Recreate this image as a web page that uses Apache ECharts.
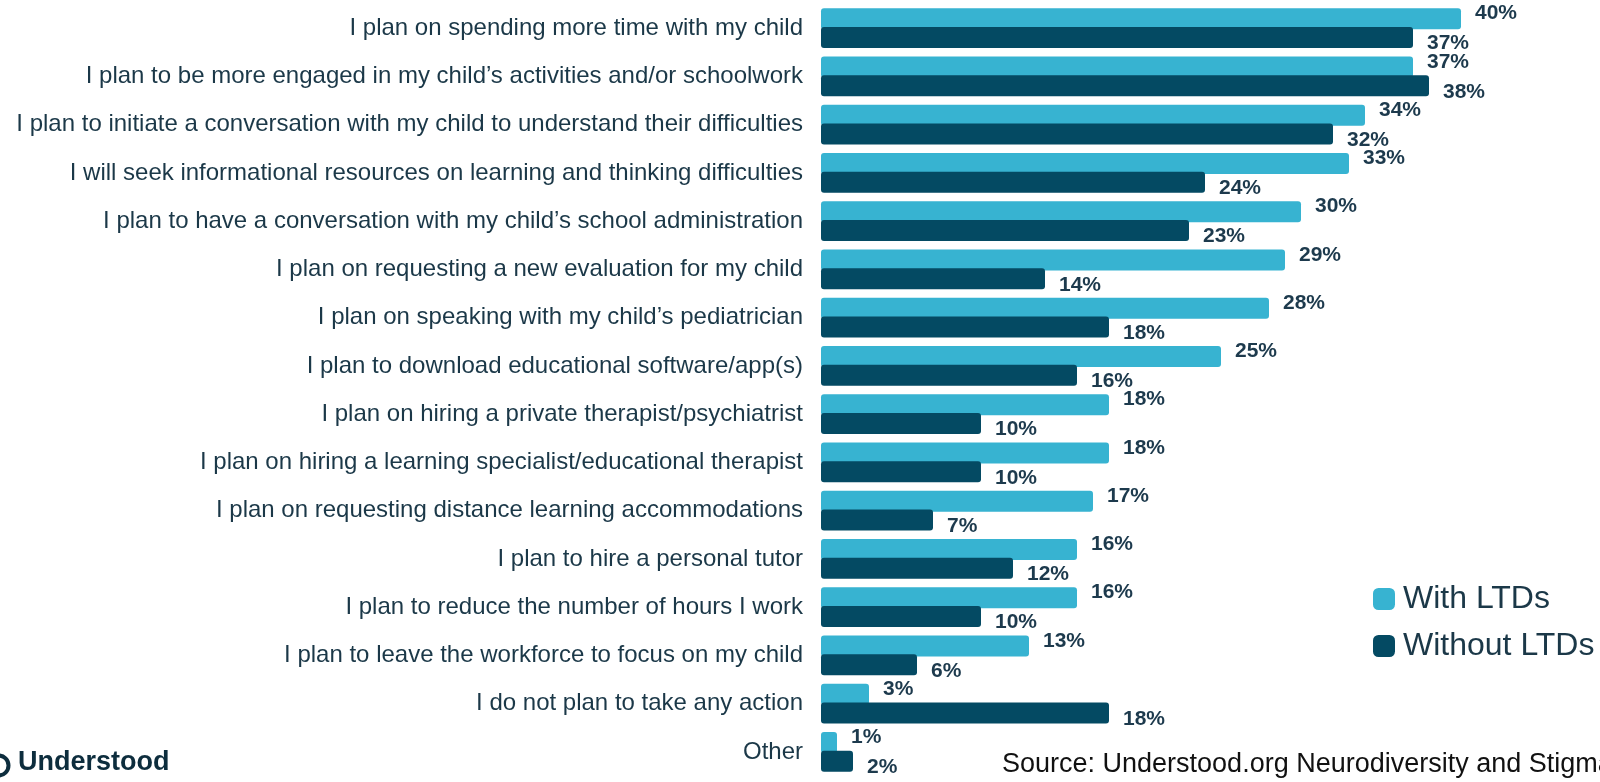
<!DOCTYPE html>
<html>
<head>
<meta charset="utf-8">
<title>Planned actions</title>
<script src="https://cdn.jsdelivr.net/npm/echarts/dist/echarts.min.js"></script>
<style>
  html, body { margin: 0; padding: 0; background: #fff; }
  #chart { width: 1600px; height: 782px; }
</style>
</head>
<body>
<div id="chart"></div>
<script>
// data
const categories = [
  "I plan on spending more time with my child",
  "I plan to be more engaged in my child\u2019s activities and/or schoolwork",
  "I plan to initiate a conversation with my child to understand their difficulties",
  "I will seek informational resources on learning and thinking difficulties",
  "I plan to have a conversation with my child\u2019s school administration",
  "I plan on requesting a new evaluation for my child",
  "I plan on speaking with my child\u2019s pediatrician",
  "I plan to download educational software/app(s)",
  "I plan on hiring a private therapist/psychiatrist",
  "I plan on hiring a learning specialist/educational therapist",
  "I plan on requesting distance learning accommodations",
  "I plan to hire a personal tutor",
  "I plan to reduce the number of hours I work",
  "I plan to leave the workforce to focus on my child",
  "I do not plan to take any action",
  "Other"
];
const withLTDs = [40, 37, 34, 33, 30, 29, 28, 25, 18, 18, 17, 16, 16, 13, 3, 1];
const withoutLTDs = [37, 38, 32, 24, 23, 14, 18, 16, 10, 10, 7, 12, 10, 6, 18, 2];

const FONT = "'Liberation Sans', Arial, Helvetica, sans-serif";
const LIGHT = "#37b3d1";
const DARK = "#044a63";
const TEXT = "#1b3848";

const chart = echarts.init(document.getElementById("chart"), null, { renderer: "canvas" });

function valueLabel(offsetY) {
  return {
    show: true,
    position: "right",
    distance: 14,
    offset: [0, offsetY],
    formatter: "{c}%",
    color: "#1d3a4d",
    fontFamily: FONT,
    fontWeight: "bold",
    fontSize: 21
  };
}

chart.setOption({
  animation: false,
  grid: { left: 821, right: 11, top: 4, bottom: 6 },
  xAxis: { type: "value", min: 0, max: 48, show: false },
  yAxis: {
    type: "category",
    inverse: true,
    data: categories,
    axisLine: { show: false },
    axisTick: { show: false },
    splitLine: { show: false },
    axisLabel: { color: TEXT, fontFamily: FONT, fontSize: 24, margin: 18 }
  },
  legend: {
    left: 1368,
    top: 578,
    orient: "vertical",
    itemWidth: 22,
    itemHeight: 22,
    itemGap: 15,
    icon: "roundRect",
    textStyle: { color: TEXT, fontFamily: FONT, fontSize: 32, padding: [0, 0, 0, 3] },
    data: ["With LTDs", "Without LTDs"]
  },
  series: [
    {
      name: "With LTDs",
      type: "bar",
      data: withLTDs,
      barWidth: 21,
      barGap: "-10%",
      itemStyle: { color: LIGHT, borderRadius: 3 },
      label: valueLabel(-5)
    },
    {
      name: "Without LTDs",
      type: "bar",
      data: withoutLTDs,
      barWidth: 21,
      barGap: "-10%",
      itemStyle: { color: DARK, borderRadius: 3 },
      label: valueLabel(6)
    }
  ],
  graphic: [
    {
      type: "circle",
      left: -14,
      top: 753,
      shape: { r: 10 },
      style: { fill: "none", stroke: "#0d2d3d", lineWidth: 4 }
    },
    {
      type: "text",
      left: 18,
      top: 749,
      style: { text: "Understood", fill: "#0d2d3d", font: "bold 27px " + FONT }
    },
    {
      type: "text",
      left: 1002,
      top: 751,
      style: { text: "Source: Understood.org Neurodiversity and Stigma Survey", fill: "#111", font: "27px " + FONT }
    }
  ]
});
</script>
</body>
</html>
